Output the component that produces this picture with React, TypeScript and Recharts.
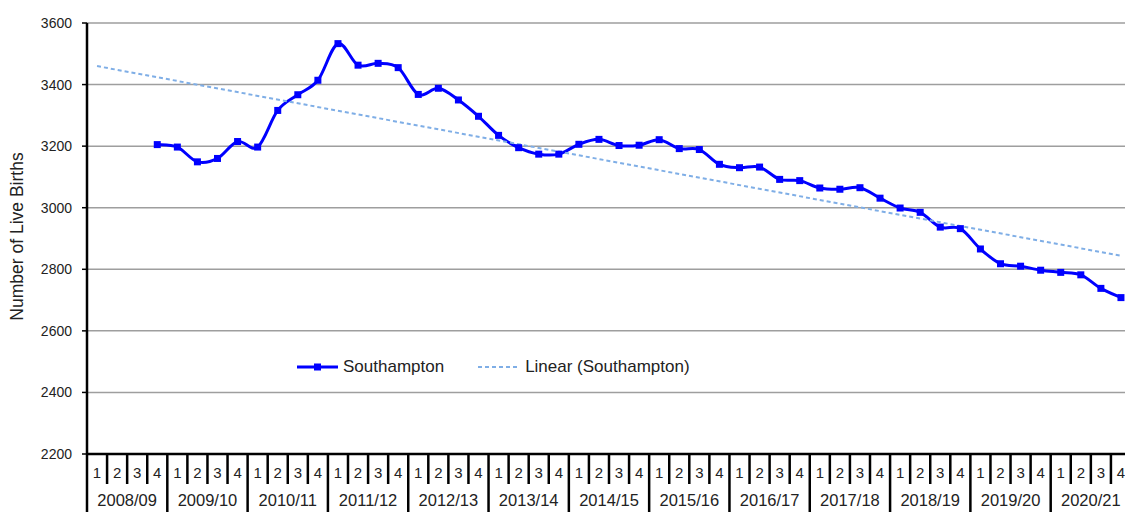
import { CartesianGrid, Legend, Line, LineChart, XAxis, YAxis } from "recharts";

// financial years shown on the axis, each split into four quarters
const years = [
  "2008/09", "2009/10", "2010/11", "2011/12", "2012/13", "2013/14", "2014/15",
  "2015/16", "2016/17", "2017/18", "2018/19", "2019/20", "2020/21",
];
const quarterLabels = ["1", "2", "3", "4"];

// rolling annual live births, one value per quarter (series starts 2008/09 Q4)
const births = [
  null, null, null, 3205,
  3197, 3149, 3160, 3215,
  3197, 3316, 3367, 3414,
  3533, 3463, 3469, 3455,
  3368, 3388, 3350, 3297,
  3235, 3195, 3174, 3174,
  3206, 3222, 3202, 3203,
  3221, 3192, 3189, 3141,
  3130, 3132, 3092, 3088,
  3064, 3060, 3065, 3031,
  2999, 2985, 2937, 2932,
  2866, 2818, 2810, 2797,
  2790, 2782, 2738, 2708,
];

// linear trendline end points (first and last quarter)
const trendStart = 3460;
const trendEnd = 2844;

const yTicks = [2200, 2400, 2600, 2800, 3000, 3200, 3400, 3600];

const FONT = '"Liberation Sans", Arial, sans-serif';
const TEXT = "#222";
const BLUE = "#0000ff";
const TREND = "#7faee6";

const CHART_W = 1136;
const CHART_H = 512;
const MARGIN = { top: 23, right: 5, bottom: 0, left: 0 };
const Y_W = 87;
const X_H = 58;

const keys = years.flatMap((y) => quarterLabels.map((q) => `${y} Q${q}`));
const data = keys.map((key, i) => ({
  key,
  births: births[i],
  trend: i === 0 ? trendStart : i === keys.length - 1 ? trendEnd : null,
}));

const STEP = (CHART_W - MARGIN.left - MARGIN.right - Y_W) / keys.length;

// Excel style smoothed line (Catmull-Rom through every point)
function excelSmooth(context: any) {
  let pts: number[][] = [];
  return {
    areaStart() {},
    areaEnd() {},
    lineStart() {
      pts = [];
    },
    point(x: number, y: number) {
      pts.push([+x, +y]);
    },
    lineEnd() {
      const n = pts.length;
      if (!n) return;
      context.moveTo(pts[0][0], pts[0][1]);
      for (let i = 0; i < n - 1; i++) {
        const p0 = pts[i - 1] || pts[i];
        const p1 = pts[i];
        const p2 = pts[i + 1];
        const p3 = pts[i + 2] || p2;
        context.bezierCurveTo(
          p1[0] + (p2[0] - p0[0]) / 6,
          p1[1] + (p2[1] - p0[1]) / 6,
          p2[0] - (p3[0] - p1[0]) / 6,
          p2[1] - (p3[1] - p1[1]) / 6,
          p2[0],
          p2[1]
        );
      }
    },
  };
}

function QuarterTick(props: any) {
  const { x, y, payload } = props;
  const i = payload.index;
  const half = payload.offset || STEP / 2;
  const q = i % 4;
  const left = x - half;
  return (
    <g>
      <line
        x1={left}
        x2={left}
        y1={y}
        y2={q === 0 ? y + X_H : y + 30}
        stroke="#000"
        strokeWidth={2.5}
      />
      <text
        x={x}
        y={y + 18}
        textAnchor="middle"
        dominantBaseline="central"
        fontFamily={FONT}
        fontSize={15}
        fill={TEXT}
      >
        {quarterLabels[q]}
      </text>
      {q === 1 && (
        <text
          x={x + half}
          y={y + 46}
          textAnchor="middle"
          dominantBaseline="central"
          fontFamily={FONT}
          fontSize={16.5}
          fill={TEXT}
        >
          {years[Math.floor(i / 4)]}
        </text>
      )}
    </g>
  );
}

function SquareDot(props: any) {
  const { cx, cy, index, payload } = props;
  if (cy == null || payload?.births == null) return <g key={`d${index}`} />;
  return <rect key={`d${index}`} x={cx - 3.5} y={cy - 3.5} width={7} height={7} fill={BLUE} />;
}

function LegendBox(props: any) {
  const items = [...(props.payload || [])].sort((a: any, b: any) =>
    a.dataKey === "births" ? -1 : b.dataKey === "births" ? 1 : 0
  );
  return (
    <div style={{ display: "flex", alignItems: "center", fontFamily: FONT, fontSize: 17, color: TEXT, whiteSpace: "nowrap" }}>
      {items.map((it: any, i: number) => (
        <div key={i} style={{ display: "flex", alignItems: "center", marginLeft: i === 0 ? 0 : 34 }}>
          {it.dataKey === "births" ? (
            <svg width={42} height={10}>
              <line x1={0} x2={41} y1={5} y2={5} stroke={BLUE} strokeWidth={3} />
              <rect x={17} y={1.5} width={7} height={7} fill={BLUE} />
            </svg>
          ) : (
            <svg width={40} height={10}>
              <line x1={0} x2={39} y1={5} y2={5} stroke={TREND} strokeWidth={2} strokeDasharray="4 3" />
            </svg>
          )}
          <span style={{ marginLeft: it.dataKey === "births" ? 4 : 7 }}>{it.value}</span>
        </div>
      ))}
    </div>
  );
}

export default function App() {
  return (
    <div style={{ position: "fixed", left: 0, top: 0, width: 1125, height: 512, overflow: "hidden", background: "#fff" }}>
      <LineChart width={CHART_W} height={CHART_H} data={data} margin={MARGIN}>
        <CartesianGrid vertical={false} stroke="#9e9e9e" strokeWidth={1.5} />
        <XAxis
          dataKey="key"
          scale="band"
          height={X_H}
          interval={0}
          tickLine={false}
          tickSize={0}
          tickMargin={0}
          axisLine={{ stroke: "#000", strokeWidth: 2.5 }}
          tick={<QuarterTick />}
        />
        <YAxis
          width={Y_W}
          domain={[2200, 3600]}
          ticks={yTicks}
          interval={0}
          tickSize={5}
          tickMargin={10}
          axisLine={{ stroke: "#000", strokeWidth: 2.5 }}
          tickLine={{ stroke: "#000", strokeWidth: 1.5 }}
          tick={{ fill: TEXT, fontSize: 14, fontFamily: FONT }}
          label={{
            content: (p: any) => {
              const vb = p.viewBox || {};
              const cx = (vb.x || 0) + 17;
              const cy = (vb.y || 0) + (vb.height || 0) / 2 - 2;
              return (
                <text
                  x={cx}
                  y={cy}
                  transform={`rotate(-90 ${cx} ${cy})`}
                  textAnchor="middle"
                  dominantBaseline="central"
                  fontFamily={FONT}
                  fontSize={17.5}
                  fill={TEXT}
                >
                  Number of Live Births
                </text>
              );
            },
          }}
        />
        <Legend
          layout="horizontal"
          verticalAlign="middle"
          align="center"
          wrapperStyle={{ left: 297, top: 357, width: "auto" }}
          content={<LegendBox />}
        />
        <Line
          name="Southampton"
          dataKey="births"
          type={excelSmooth as any}
          stroke={BLUE}
          strokeWidth={3}
          dot={SquareDot}
          activeDot={false}
          isAnimationActive={false}
        />
        <Line
          name="Linear (Southampton)"
          dataKey="trend"
          type="linear"
          connectNulls
          stroke={TREND}
          strokeWidth={2}
          strokeDasharray="4 3"
          dot={false}
          activeDot={false}
          isAnimationActive={false}
        />
      </LineChart>
    </div>
  );
}
